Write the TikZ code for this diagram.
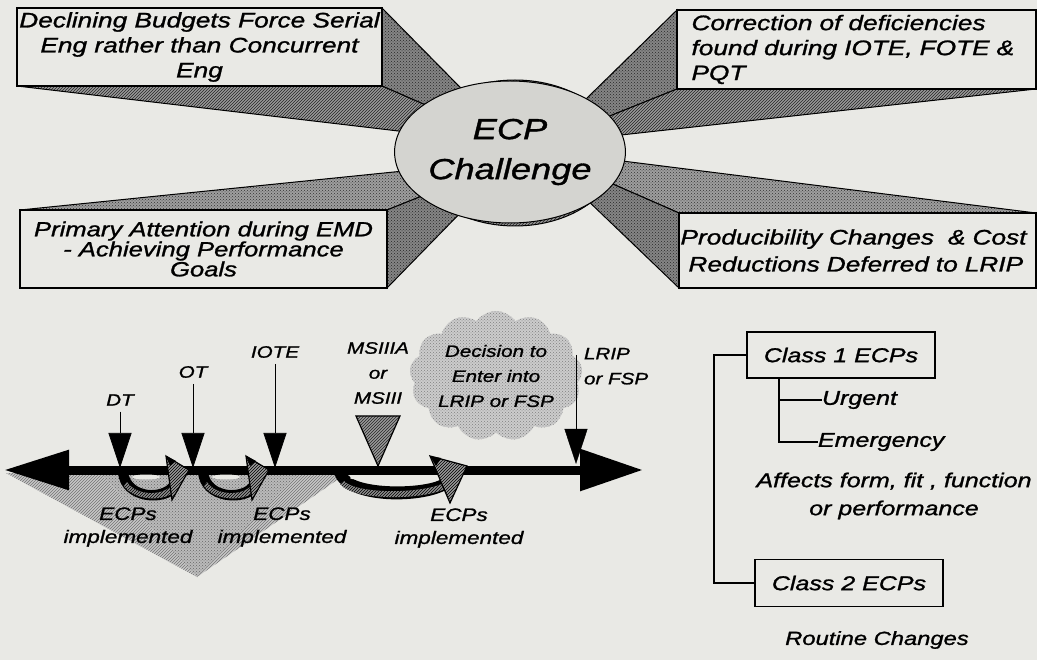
\documentclass[tikz,border=0pt]{standalone}
\usepackage{fontspec}
\setmainfont{Liberation Sans}[FakeStretch=1.25, FakeBold=1.2]
\usetikzlibrary{patterns,shapes.symbols,shapes.geometric,arrows.meta}
\pgfdeclarelayer{back}
\pgfsetlayers{back,main}
\definecolor{bg}{RGB}{233,233,229}
\definecolor{ellfill}{RGB}{212,212,208}
\tikzset{
  every node/.style={inner sep=0pt, outer sep=0pt},
  bigbox/.style={draw=black, line width=1.6pt, fill=bg, minimum height=78pt, font=\fontsize{21}{25}\selectfont\itshape},
  dotface/.style={preaction={fill=black!48}, pattern=crosshatch dots, pattern color=black!85, draw=black, line width=1pt},
  dotfacelt/.style={preaction={fill=black!38}, pattern=crosshatch dots, pattern color=black!80, draw=black, line width=1pt},
  hatchface/.style={preaction={fill=black!40}, pattern=north east lines, pattern color=black!85, draw=black, line width=1pt},
  hatchlt/.style={preaction={fill=black!22}, pattern=north east lines, pattern color=black!55},
  dotlt/.style={preaction={fill=black!27}, pattern=crosshatch dots, pattern color=black!60},
  lbl/.style={font=\fontsize{16.5}{25}\selectfont\itshape, align=center},
  ecplbl/.style={font=\fontsize{18}{23}\selectfont\itshape, align=center},
  evarrow/.style={line width=0.7pt, -{Triangle[length=35pt,width=23pt]}},
  classbox/.style={draw=black, line width=1.1pt, minimum width=188pt, minimum height=46pt, font=\fontsize{20}{24}\selectfont\itshape},
  rtxt/.style={font=\fontsize{20}{28}\selectfont\itshape, align=center},
  treeline/.style={line width=1.1pt},
  ribhead/.style={preaction={fill=black!40}, pattern=north east lines, pattern color=black, draw=black, line width=1.2pt},
  ribband/.style={preaction={fill=black!45}, pattern=north east lines, pattern color=black},
}
\begin{document}
\begin{tikzpicture}[x=1pt,y=-1pt]
\begin{pgfonlayer}{back}
\fill[bg] (0,0) rectangle (1037,660);
\end{pgfonlayer}
\useasboundingbox (0,0) rectangle (1037,660);

% ---- top boxes
\node[bigbox, anchor=north west, minimum width=365pt, align=center] (tl) at (17,8)
  {Declining Budgets Force Serial\\Eng rather than Concurrent\\Eng};
\node[bigbox, anchor=north west, minimum width=359pt, minimum height=79pt, align=left, text width=330pt] (tr) at (677,10)
  {Correction of deficiencies\\found during IOTE, FOTE \&\\PQT};
\node[bigbox, anchor=north west, minimum width=367pt, align=center, font=\fontsize{20.5}{20}\selectfont\itshape] (bl) at (20,210)
  {Primary Attention during EMD\\- Achieving Performance\\Goals};
\node[bigbox, anchor=north west, minimum width=357pt, minimum height=75pt, align=left, text width=354pt, font=\fontsize{21}{27}\selectfont\itshape] (br) at (679,213)
  {\mbox{Producibility Changes \ \& Cost}\\\hspace*{8pt}Reductions Deferred to LRIP};

\coordinate (apTL) at (517,145);
\coordinate (apTR) at (540,144);
\coordinate (apBL) at (512,160);
\coordinate (apBR) at (535,150);

\begin{pgfonlayer}{back}
\path[dotface] (tl.north east) -- (apTL) -- (tl.south east) -- cycle;
\path[hatchface] (tl.south west) -- (apTL) -- (tl.south east) -- cycle;
\path[dotface] (tr.north west) -- (apTR) -- (tr.south west) -- cycle;
\path[hatchface] (tr.south west) -- (apTR) -- (tr.south east) -- cycle;
\path[dotfacelt] (bl.north west) -- (apBL) -- (bl.north east) -- cycle;
\path[dotface] (bl.north east) -- (apBL) -- (bl.south east) -- cycle;
\path[dotfacelt] (br.north west) -- (apBR) -- (br.north east) -- cycle;
\path[dotface] (br.north west) -- (apBR) -- (br.south west) -- cycle;
\end{pgfonlayer}

% ---- central ellipse
\node[ellipse, draw=black, line width=1pt, minimum width=206pt, minimum height=146pt,
      preaction={fill=black!40}, pattern=north east lines, pattern color=black!85] (rim) at (515,153) {};
\node[ellipse, draw=black, line width=1pt, fill=ellfill, minimum width=194pt, minimum height=142pt,
      font=\fontsize{29}{40}\selectfont\itshape, align=center] (ecp) at (510,152) {ECP\\Challenge};

% ---- timeline
\path[hatchlt] (6,473) -- (100,473) -- (197,577) -- cycle;
\path[dotlt] (100,473) -- (300,473) -- (197,577) -- cycle;
\path[hatchlt] (300,473) -- (347,473) -- (197,577) -- cycle;

\coordinate (tlL) at (4,470);
\coordinate (tlR) at (643,470);
\draw[line width=9pt, {Triangle[length=65pt,width=38pt]}-{Triangle[length=63pt,width=40pt]}] (tlL) -- (tlR);

% event markers
\node[lbl] (dt) at (120,400) {DT};
\coordinate (dtp) at (120,468);
\draw[evarrow, shorten <=6pt] (dt) -- (dtp);
\node[lbl] (ot) at (193,372) {OT};
\coordinate (otp) at (193,468);
\draw[evarrow, shorten <=6pt] (ot) -- (otp);
\node[lbl] (iote) at (275,352) {IOTE};
\coordinate (iotep) at (275,468);
\draw[evarrow, shorten <=6pt] (iote) -- (iotep);

\node[lbl] (ms) at (378,373) {MSIIIA\\or\\MSIII};
\path[hatchface, line width=1.2pt] (356,416) -- (400,416) -- (378,466) -- cycle;

\node[cloud, cloud puffs=13, cloud puff arc=110, aspect=1.45, minimum width=150pt, minimum height=106pt,
      preaction={fill=black!20}, pattern=crosshatch dots, pattern color=black!50, lbl] (cl) at (496,376)
      {Decision to\\Enter into\\LRIP or FSP};

\node[lbl, anchor=north west, align=left] (lrip) at (584,348) {LRIP\\or FSP};
\coordinate (lrtop) at (576,355);
\coordinate (lrp) at (576,464);
\draw[evarrow, line width=0.5pt] (lrtop) -- (lrp);

% ribbons (ECPs implemented)
\foreach \dx in {0,80} {
  \begin{scope}[xshift=\dx pt]
    \fill[black] (118,472) .. controls (120,505) and (168,507) .. (178,490) -- (170,482) .. controls (163,494) and (131,494) .. (128,472) -- cycle;
    \path[ribband] (124,486) .. controls (134,501) and (165,502) .. (175,491) -- (171,486) .. controls (162,496) and (136,496) .. (127,482) -- cycle;
    \fill[bg] (146,477) ellipse [x radius=14, y radius=2.5];
    \path[ribhead] (172,500) -- (166,456) -- (189,470) -- cycle;
    \fill[black] (166,456) -- (176,461) -- (170,466) -- cycle;
  \end{scope}
}
\fill[black] (334,472) .. controls (340,504) and (418,505) .. (446,490) -- (440,480) .. controls (418,490) and (352,489) .. (346,472) -- cycle;
\path[ribband] (340,484) .. controls (352,500) and (418,501) .. (445,489) -- (442,484) .. controls (418,494) and (356,494) .. (344,481) -- cycle;
\fill[bg] (378,478) ellipse [x radius=28, y radius=2.5];
\path[ribhead] (450,503) -- (430,456) -- (467,466) -- cycle;
\fill[black] (430,456) -- (441,458) -- (436,466) -- cycle;

\node[ecplbl] (e1) at (128,527) {ECPs\\implemented};
\node[ecplbl] (e2) at (282,527) {ECPs\\implemented};
\node[ecplbl] (e3) at (459,528) {ECPs\\implemented};

% ---- right side
\node[classbox] (c1) at (841,355) {Class 1 ECPs};
\node[classbox, minimum height=47pt] (c2) at (849,583) {Class 2 ECPs};
\node[rtxt, anchor=west] (urg) at (822,400) {Urgent};
\node[rtxt, anchor=west] (emg) at (818,442) {Emergency};
\node[rtxt] (aff) at (894,496) {Affects form, fit , function\\or performance};
\node[rtxt, font=\fontsize{19}{24}\selectfont\itshape] (rout) at (877,640) {Routine Changes};

\coordinate (trk) at (714,0);
\coordinate (sbk) at (779,0);
\draw[treeline] (c1.west) -- (c1.west -| trk) -- (c2.west -| trk) -- (c2.west);
\draw[treeline] (c1.south -| sbk) -- (emg.west -| sbk) -- (emg.west);
\draw[treeline] (urg.west -| sbk) -- (urg.west);
\end{tikzpicture}
\end{document}
